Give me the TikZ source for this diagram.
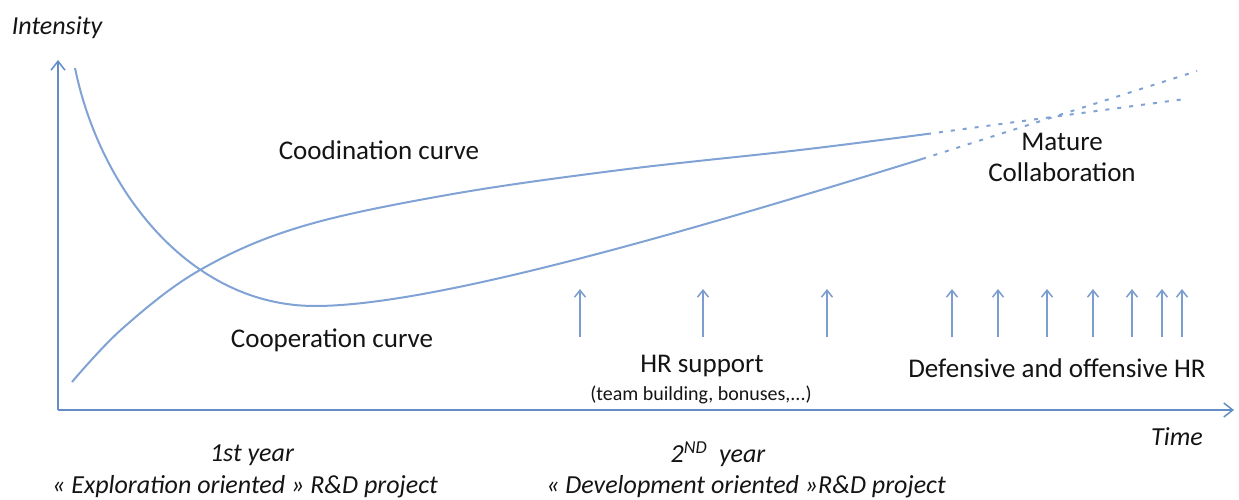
\documentclass[tikz,border=0pt]{standalone}
\usepackage{fontspec}
\setmainfont{Carlito}
\usetikzlibrary{arrows.meta}
\definecolor{axisblue}{RGB}{100,140,198}
\definecolor{curveblue}{RGB}{128,162,212}
\definecolor{txt}{RGB}{20,20,20}
\tikzset{
  axisline/.style={draw=axisblue, line width=2pt, -{Straight Barb[length=9pt,width=14pt,line width=1.5pt]}},
  curveline/.style={draw=curveblue, line width=2pt},
  dashline/.style={draw=curveblue, line width=2pt, dash pattern=on 4pt off 8pt},
  hrarrow/.style={draw=axisblue!85!white, line width=2pt, -{Straight Barb[length=7pt,width=11pt,line width=1.5pt]}},
  biglabel/.style={text=txt, font=\fontsize{27}{31}\selectfont, inner sep=0pt},
  itlabel/.style={text=txt, font=\fontsize{26}{30}\selectfont\itshape, inner sep=0pt},
  smalllabel/.style={text=txt, font=\fontsize{20}{24}\selectfont, inner sep=0pt}
}
\begin{document}
\begin{tikzpicture}[x=1pt,y=-1pt]
\useasboundingbox (0,0) rectangle (1239,500);
% axes
\coordinate (origin) at (58,410);
\coordinate (ytip) at (58,60);
\coordinate (xtip) at (1234,410);
\draw[axisline] (origin) -- (ytip);
\draw[axisline] (origin) -- (xtip);
% coordination curve
\coordinate (coS) at (72,382);
\coordinate (coA) at (927,134);
\coordinate (coB) at (1185,99);
\draw[curveline] plot[smooth, tension=0.6] coordinates {(72,382) (123,328) (200,270) (300,227) (447,195) (620,170) (800,150) (927,134)};
\draw[dashline] (coA) -- (coB);
% cooperation curve
\coordinate (cpS) at (75,68);
\coordinate (cpM) at (315,306);
\coordinate (cpA) at (922,159);
\coordinate (cpB) at (1197,71);
\draw[curveline] (cpS) .. controls (100,190) and (190,306) .. (cpM)
  .. controls (430,306) and (672,236.5) .. (cpA);
\draw[dashline] (cpA) -- (cpB);
% HR arrows
\foreach \x/\n in {580/a1,703/a2,827/a3,952/b1,998/b2,1047/b3,1093/b4,1132/b5,1162/b6,1182/b7}{
  \coordinate (\n s) at (\x,337);
  \coordinate (\n t) at (\x,289);
  \draw[hrarrow] (\n s) -- (\n t);
}
% labels
\node[itlabel] (intensity) at (57,28) {Intensity};
\node[itlabel] (time) at (1177,437) {Time};
\node[biglabel] (coord) at (379,150) {Coodination curve};
\node[biglabel] (coop) at (332,340) {Cooperation curve};
\node[biglabel, align=center] (mature) at (1062,157) {Mature\\Collaboration};
\node[biglabel] (hrs) at (702,366) {HR support};
\node[smalllabel] (hrsub) at (701,395) {(team building, bonuses,...)};
\node[biglabel] (defoff) at (1057,368) {Defensive and offensive HR};
\node[itlabel] (y1) at (252,455) {1st year};
\node[itlabel] (y1b) at (245,487) {« Exploration oriented » R\&D project};
\node[itlabel] (y2) at (718,454) {2\textsuperscript{ND}\ \ year};
\node[itlabel] (y2b) at (746,487) {« Development oriented »R\&D project};
\end{tikzpicture}
\end{document}
